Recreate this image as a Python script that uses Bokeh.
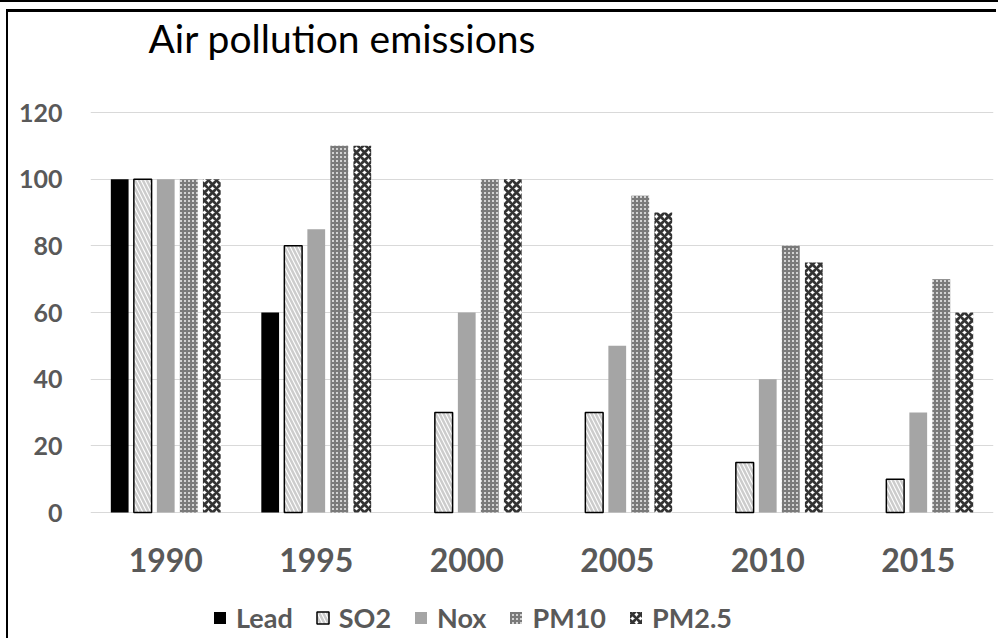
from bokeh.plotting import figure
from bokeh.models import (ColumnDataSource, FactorRange, Range1d, FixedTicker, Legend,
                          LegendItem, Label)
from bokeh.transform import dodge
from bokeh.embed import file_html
from bokeh.resources import INLINE

years = ["1990", "1995", "2000", "2005", "2010", "2015"]
lead = [100, 60, 0, 0, 0, 0]
so2 = [100, 80, 30, 30, 15, 10]
nox = [100, 85, 60, 50, 40, 30]
pm10 = [100, 110, 100, 95, 80, 70]
pm25 = [100, 110, 100, 90, 75, 60]
series_names = ["Lead", "SO2", "Nox", "PM10", "PM2.5"]
y_ticks = [0, 20, 40, 60, 80, 100, 120]

source = ColumnDataSource(dict(years=years, lead=lead, so2=so2, nox=nox, pm10=pm10, pm25=pm25))

# the frame covers the full canvas height so that title and legend sit inside it;
# 0 -> y=512px and 120 -> y=112px on the page
p = figure(x_range=FactorRange(*years, range_padding=0), y_range=Range1d(-38.7, 150.0),
           width=990, height=629, output_backend="svg", toolbar_location=None,
           min_border_left=82, min_border_right=5, min_border_top=0, min_border_bottom=0)
p.styles = {"margin-left": "6px", "margin-top": "9px",
            "border-left": "2px solid black", "border-top": "3px solid black",
            "box-shadow": "0 1px 0 8px white, 0 -3px 0 6px black"}
p.outline_line_color = None
p.background_fill_color = "white"
p.border_fill_color = "white"

w = 0.118
step = 0.153
r1 = p.vbar(x=dodge("years", -2 * step, range=p.x_range), top="lead", width=w, source=source,
            fill_color="black", line_color=None)
r2 = p.vbar(x=dodge("years", -step, range=p.x_range), top="so2", width=w, source=source,
            fill_color="white", line_color="black", line_width=1.5,
            hatch_pattern="\\", hatch_color="#cccccc", hatch_weight=2.5, hatch_scale=8)
r3 = p.vbar(x=dodge("years", 0, range=p.x_range), top="nox", width=w, source=source,
            fill_color="#a5a5a5", line_color=None)
r4 = p.vbar(x=dodge("years", step, range=p.x_range), top="pm10", width=w, source=source,
            fill_color="#d2d2d2", line_color=None,
            hatch_pattern="+", hatch_color="#7a7a7a", hatch_weight=2, hatch_scale=4)
r5 = p.vbar(x=dodge("years", 2 * step, range=p.x_range), top="pm25", width=w, source=source,
            fill_color="white", line_color=None,
            hatch_pattern="x", hatch_color="#333333", hatch_weight=2.8, hatch_scale=8)

p.xgrid.grid_line_color = None
p.ygrid.grid_line_color = "#d9d9d9"
p.ygrid.grid_line_width = 1
p.yaxis.ticker = FixedTicker(ticks=y_ticks)
p.xaxis.fixed_location = 0

for ax in (p.xaxis[0], p.yaxis[0]):
    ax.axis_line_color = None
    ax.major_tick_line_color = None
    ax.minor_tick_line_color = None
    ax.major_tick_out = 0
    ax.major_tick_in = 0
    ax.major_label_text_font = "Lato"
    ax.major_label_text_font_style = "bold"
    ax.major_label_text_color = "#595959"

p.yaxis.major_label_text_font_size = "25px"
p.yaxis.major_label_standoff = 28
p.xaxis.major_label_text_font_size = "32px"
p.xaxis.major_label_standoff = 35

title = Label(x=58, y=604, x_units="screen", y_units="screen", text="Air pollution emissions",
              text_font="Lato", text_font_size="39px", text_color="black",
              text_baseline="alphabetic")
p.add_layout(title)

legend = Legend(items=[LegendItem(label=n, renderers=[r]) for n, r in
                       zip(series_names, [r1, r2, r3, r4, r5])],
                orientation="horizontal", location=(122, 7), padding=0, margin=0,
                border_line_color=None, background_fill_alpha=0,
                glyph_width=15, glyph_height=15, label_standoff=9, spacing=22,
                label_text_font="Lato", label_text_font_style="bold",
                label_text_font_size="27px", label_text_color="#595959")
p.add_layout(legend)

open("out.html", "w").write(file_html(p, INLINE))
